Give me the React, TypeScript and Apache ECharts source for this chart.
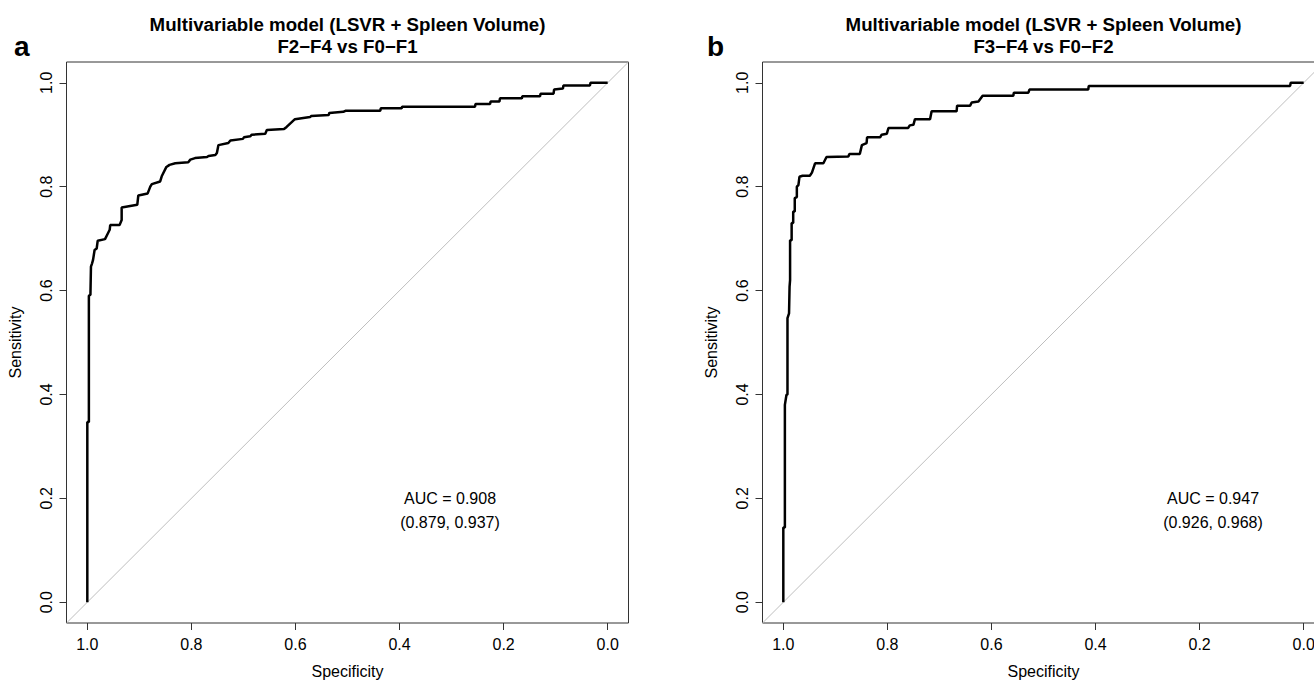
import React, { useEffect, useRef } from "react";
import * as echarts from "echarts";

// ---------- data ----------
const tickValues = [0, 0.2, 0.4, 0.6, 0.8, 1.0];
const titleLine1 = "Multivariable model (LSVR + Spleen Volume)";
const subtitleA = "F2\u2212F4 vs F0\u2212F1";
const subtitleB = "F3\u2212F4 vs F0\u2212F2";
const panelLabels = ["a", "b"];
const aucTextA = ["AUC = 0.908", "(0.879, 0.937)"];
const aucTextB = ["AUC = 0.947", "(0.926, 0.968)"];
const xAxisName = "Specificity";
const yAxisName = "Sensitivity";

// ROC curve, panel a (specificity, sensitivity)
const specA = [1.000, 1.000, 0.997, 0.997, 0.994, 0.993, 0.991, 0.989, 0.986, 0.982, 0.980, 0.966, 0.962, 0.957, 0.956, 0.938, 0.934, 0.934, 0.904, 0.902, 0.884, 0.879, 0.876, 0.860, 0.857, 0.848, 0.842, 0.831, 0.806, 0.802, 0.793, 0.770, 0.767, 0.754, 0.751, 0.748, 0.729, 0.725, 0.701, 0.699, 0.687, 0.684, 0.658, 0.655, 0.622, 0.617, 0.601, 0.572, 0.570, 0.536, 0.535, 0.508, 0.504, 0.437, 0.436, 0.396, 0.395, 0.255, 0.254, 0.226, 0.225, 0.208, 0.207, 0.165, 0.164, 0.130, 0.129, 0.104, 0.103, 0.086, 0.085, 0.034, 0.033, 0.000];
const sensA = [0.000, 0.347, 0.347, 0.590, 0.592, 0.646, 0.652, 0.659, 0.678, 0.681, 0.696, 0.699, 0.707, 0.717, 0.726, 0.726, 0.736, 0.760, 0.765, 0.783, 0.787, 0.800, 0.805, 0.810, 0.820, 0.838, 0.842, 0.845, 0.847, 0.852, 0.855, 0.857, 0.859, 0.861, 0.865, 0.880, 0.884, 0.889, 0.892, 0.895, 0.897, 0.900, 0.902, 0.909, 0.911, 0.915, 0.930, 0.934, 0.936, 0.938, 0.942, 0.944, 0.946, 0.946, 0.951, 0.951, 0.954, 0.954, 0.959, 0.959, 0.964, 0.964, 0.970, 0.970, 0.974, 0.974, 0.979, 0.979, 0.987, 0.989, 0.995, 0.995, 1.000, 1.000];

// ROC curve, panel b (specificity, sensitivity)
const specB = [1.000, 1.000, 0.997, 0.997, 0.994, 0.992, 0.992, 0.989, 0.988, 0.987, 0.987, 0.984, 0.984, 0.981, 0.981, 0.978, 0.978, 0.974, 0.974, 0.971, 0.969, 0.963, 0.949, 0.945, 0.939, 0.923, 0.917, 0.917, 0.875, 0.873, 0.853, 0.849, 0.840, 0.839, 0.814, 0.811, 0.801, 0.798, 0.760, 0.757, 0.750, 0.747, 0.718, 0.715, 0.667, 0.666, 0.641, 0.638, 0.625, 0.617, 0.558, 0.557, 0.529, 0.527, 0.414, 0.413, 0.026, 0.025, 0.000];
const sensB = [0.000, 0.144, 0.144, 0.380, 0.399, 0.400, 0.547, 0.556, 0.607, 0.620, 0.697, 0.697, 0.730, 0.730, 0.752, 0.752, 0.778, 0.780, 0.800, 0.803, 0.819, 0.821, 0.821, 0.827, 0.845, 0.845, 0.857, 0.858, 0.858, 0.863, 0.863, 0.880, 0.884, 0.895, 0.895, 0.900, 0.902, 0.913, 0.913, 0.918, 0.919, 0.930, 0.930, 0.945, 0.945, 0.956, 0.956, 0.962, 0.964, 0.975, 0.975, 0.981, 0.981, 0.987, 0.987, 0.994, 0.994, 1.000, 1.000];

const axisMin = -0.04;
const axisMax = 1.04;
const diagonal = [[axisMax, axisMin], [axisMin, axisMax]];

// ---------- styling ----------
const FONT = '"Liberation Sans", Arial, Helvetica, sans-serif';
const GRID_TOP = 62;
const GRID_H = 561;
const GRID_W = 562;
const GRID_A_LEFT = 66.5;
const GRID_B_LEFT = 762.5;

function xAxisCfg(gridIndex: number) {
  return {
    type: "value",
    gridIndex,
    min: axisMin,
    max: axisMax,
    inverse: true,
    name: xAxisName,
    nameLocation: "middle",
    nameGap: 40,
    nameTextStyle: { fontFamily: FONT, fontSize: 16, color: "#000" },
    axisLine: { show: false, onZero: false },
    axisTick: { show: true, customValues: tickValues, length: 7, lineStyle: { color: "#333", width: 1 } },
    axisLabel: {
      customValues: tickValues,
      formatter: (v: number) => v.toFixed(1),
      margin: 13,
      fontFamily: FONT,
      fontSize: 16,
      color: "#000",
    },
    splitLine: { show: false },
  };
}

function yAxisCfg(gridIndex: number) {
  return {
    type: "value",
    gridIndex,
    min: axisMin,
    max: axisMax,
    name: yAxisName,
    nameLocation: "middle",
    nameGap: 43,
    nameTextStyle: { fontFamily: FONT, fontSize: 16, color: "#000" },
    axisLine: { show: false, onZero: false },
    axisTick: { show: true, customValues: tickValues, length: 7, lineStyle: { color: "#333", width: 1 } },
    axisLabel: {
      customValues: tickValues,
      formatter: (v: number) => v.toFixed(1),
      rotate: 90,
      margin: 12,
      fontFamily: FONT,
      fontSize: 16,
      color: "#000",
    },
    splitLine: { show: false },
  };
}

function text(x: number, y: number, str: string, font: string, align = "center") {
  return {
    type: "text",
    x,
    y,
    style: { text: str, font, fill: "#000", textAlign: align, textVerticalAlign: "middle" },
  };
}

export default function App() {
  const ref = useRef<HTMLDivElement>(null);

  useEffect(() => {
    if (!ref.current) return;
    const chart = echarts.init(ref.current, null, { renderer: "svg" });

    const curveA = specA.map((s, i) => [s, sensA[i]]);
    const curveB = specB.map((s, i) => [s, sensB[i]]);

    const titleFont = `bold 18.7px ${FONT}`;
    const labelFont = `bold 28px ${FONT}`;
    const aucFont = `16px ${FONT}`;
    const centerA = GRID_A_LEFT + GRID_W / 2;
    const centerB = GRID_B_LEFT + GRID_W / 2;

    const gridBase = {
      top: GRID_TOP,
      width: GRID_W,
      height: GRID_H,
      show: true,
      borderColor: "#333",
      borderWidth: 1,
      backgroundColor: "transparent",
      containLabel: false,
      outerBoundsMode: "none",
    };

    chart.setOption({
      animation: false,
      backgroundColor: "#fff",
      grid: [
        { ...gridBase, left: GRID_A_LEFT },
        { ...gridBase, left: GRID_B_LEFT },
      ],
      xAxis: [xAxisCfg(0), xAxisCfg(1)],
      yAxis: [yAxisCfg(0), yAxisCfg(1)],
      series: [
        { type: "line", xAxisIndex: 0, yAxisIndex: 0, data: diagonal, showSymbol: false, lineStyle: { color: "#BEBEBE", width: 1 }, silent: true },
        { type: "line", xAxisIndex: 1, yAxisIndex: 1, data: diagonal, showSymbol: false, lineStyle: { color: "#BEBEBE", width: 1 }, silent: true },
        { type: "line", xAxisIndex: 0, yAxisIndex: 0, data: curveA, showSymbol: false, lineStyle: { color: "#000", width: 2.5 }, silent: true },
        { type: "line", xAxisIndex: 1, yAxisIndex: 1, data: curveB, showSymbol: false, lineStyle: { color: "#000", width: 2.5 }, silent: true },
      ],
      graphic: [
        text(centerA, 24, titleLine1, titleFont),
        text(centerA, 46, subtitleA, titleFont),
        text(centerB, 24, titleLine1, titleFont),
        text(centerB, 46, subtitleB, titleFont),
        text(14, 46, panelLabels[0], labelFont, "left"),
        text(707, 46, panelLabels[1], labelFont, "left"),
        text(450, 498, aucTextA[0], aucFont),
        text(450, 522, aucTextA[1], aucFont),
        text(1213, 498, aucTextB[0], aucFont),
        text(1213, 522, aucTextB[1], aucFont),
      ],
    });

    return () => chart.dispose();
  }, []);

  return <div ref={ref} style={{ position: "fixed", left: 0, top: 0, width: 1314, height: 682 }} />;
}
